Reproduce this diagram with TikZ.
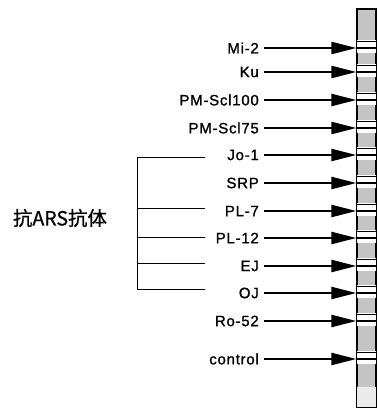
\documentclass[tikz,border=0pt]{standalone}
\usepackage{fontspec}
\setmainfont{Liberation Sans}
\newfontfamily\cjkfont{Noto Sans CJK SC}
\usepackage{xcolor}
\usepackage{tikz}
\usetikzlibrary{arrows.meta, positioning, calc}
\definecolor{stripgray}{RGB}{196,196,196}
\definecolor{paleband}{RGB}{236,236,236}

\begin{document}
\begin{tikzpicture}[x=1pt, y=-1pt, >={Triangle[length=25pt,width=12pt]}]
  \tikzstyle{antigen} = [anchor=east, inner sep=0pt, font=\fontsize{15}{17}\selectfont\addfontfeatures{LetterSpace=5, FakeBold=1.2}]
  \tikzstyle{hit} = [->, line width=2.2pt, shorten <=5pt]
  \tikzstyle{branch} = [line width=1pt]
  \tikzstyle{lane} = [rectangle, draw, line width=1.2pt, fill=stripgray, minimum width=19pt, minimum height=398pt, inner sep=0pt]

  \useasboundingbox (0,0) rectangle (378,410);

  % gel strip
  \node [lane] (strip) at (366.5,208) {};
  \foreach \y in {48,72,100,128,155,183,211,238,266,293,321,359} {
    \fill[white] (357,\y-8) rectangle (376,\y+5);
    \draw[line width=0.6pt] (357,\y-7) -- (376,\y-7);
    \draw[line width=1.8pt] (357,\y) -- (376,\y);
  }
  \fill[paleband] (357,387) rectangle (376,407);
  \draw[line width=1.2pt] (strip.north west) rectangle (strip.south east);

  % antigens
  \node [antigen] (mi2) at (259,48) {Mi-2};
  \node [antigen] (ku) at (259,72) {Ku};
  \node [antigen] (pmscl100) at (259,100) {PM-Scl100};
  \node [antigen] (pmscl75) at (259,128) {PM-Scl75};
  \node [antigen] (jo1) at (259,155) {Jo-1};
  \node [antigen] (srp) at (259,183) {SRP};
  \node [antigen] (pl7) at (259,211) {PL-7};
  \node [antigen] (pl12) at (259,238) {PL-12};
  \node [antigen] (ej) at (259,266) {EJ};
  \node [antigen] (oj) at (259,293) {OJ};
  \node [antigen] (ro52) at (259,321) {Ro-52};
  \node [antigen] (control) at (259,359) {control};

  \draw[hit] (mi2) -- (mi2 -| strip.west);
  \draw[hit] (ku) -- (ku -| strip.west);
  \draw[hit] (pmscl100) -- (pmscl100 -| strip.west);
  \draw[hit] (pmscl75) -- (pmscl75 -| strip.west);
  \draw[hit] (jo1) -- (jo1 -| strip.west);
  \draw[hit] (srp) -- (srp -| strip.west);
  \draw[hit] (pl7) -- (pl7 -| strip.west);
  \draw[hit] (pl12) -- (pl12 -| strip.west);
  \draw[hit] (ej) -- (ej -| strip.west);
  \draw[hit] (oj) -- (oj -| strip.west);
  \draw[hit] (ro52) -- (ro52 -| strip.west);
  \draw[hit] (control) -- (control -| strip.west);

  % anti-ARS group
  \node [font=\cjkfont\fontsize{19.5}{22}\selectfont\addfontfeatures{FakeBold=0.8}, inner sep=0pt] (ars) at (60,218) {抗ARS抗体};
  \coordinate (trunktop) at (137,157);
  \coordinate (trunkbot) at (137,289);
  \coordinate (tipjo1) at (205,157);
  \coordinate (tippl7) at (205,208);
  \coordinate (tippl12) at (205,237);
  \coordinate (tipej) at (205,263);
  \coordinate (tipoj) at (205,289);
  \draw[branch] (tipjo1) -- (trunktop) -- (trunkbot) -- (tipoj);
  \draw[branch] (tippl7 -| trunktop) -- (tippl7);
  \draw[branch] (tippl12 -| trunktop) -- (tippl12);
  \draw[branch] (tipej -| trunktop) -- (tipej);
\end{tikzpicture}
\end{document}
